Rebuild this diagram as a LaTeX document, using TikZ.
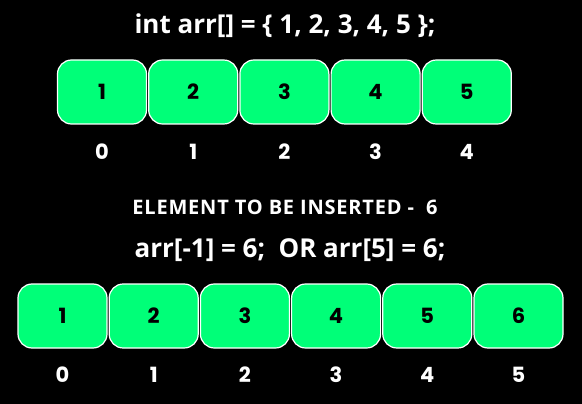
\documentclass[tikz,border=0pt]{standalone}
\usepackage{fontspec}
\setmainfont{Open Sans}
\newfontfamily\numfont{Poppins}
\definecolor{cellgreen}{HTML}{00FF78}
\begin{document}
\begin{tikzpicture}[x=1pt,y=-1pt,
  cell/.style={draw=white,line width=1.2pt,fill=cellgreen,rounded corners=14pt,minimum width=89pt,minimum height=64pt,inner sep=0pt,font=\numfont\bfseries\fontsize{21}{21}\selectfont,text=black},
  idx/.style={text=white,font=\numfont\bfseries\fontsize{21}{21}\selectfont,inner sep=0pt},
  title/.style={text=white,font=\bfseries\fontsize{26}{26}\selectfont,inner sep=0pt}]
\fill[black] (0,0) rectangle (582,404);
\useasboundingbox (0,0) rectangle (582,404);
\node[title] (t1) at (285,26) {int arr[] = \{ 1, 2, 3, 4, 5 \};};
\foreach \i/\v in {0/1,1/2,2/3,3/4,4/5}{
  \node[cell] (a\i) at (102+91.2*\i,92) {\v};
  \node[idx] (ai\i) at (102+91.2*\i,152) {\i};
}
\node[text=white,font=\bfseries\fontsize{20}{20}\selectfont\addfontfeatures{LetterSpace=4},inner sep=0pt] (t2) at (285,207) {ELEMENT TO BE INSERTED -\ \ 6};
\node[title] (t3) at (290,250) {arr[-1] = 6;\ \ OR arr[5] = 6;};
\foreach \i/\v in {0/1,1/2,2/3,3/4,4/5,5/6}{
  \node[cell] (b\i) at (62.5+91.2*\i,316) {\v};
  \node[idx] (bi\i) at (62.5+91.2*\i,375) {\i};
}
\end{tikzpicture}
\end{document}
